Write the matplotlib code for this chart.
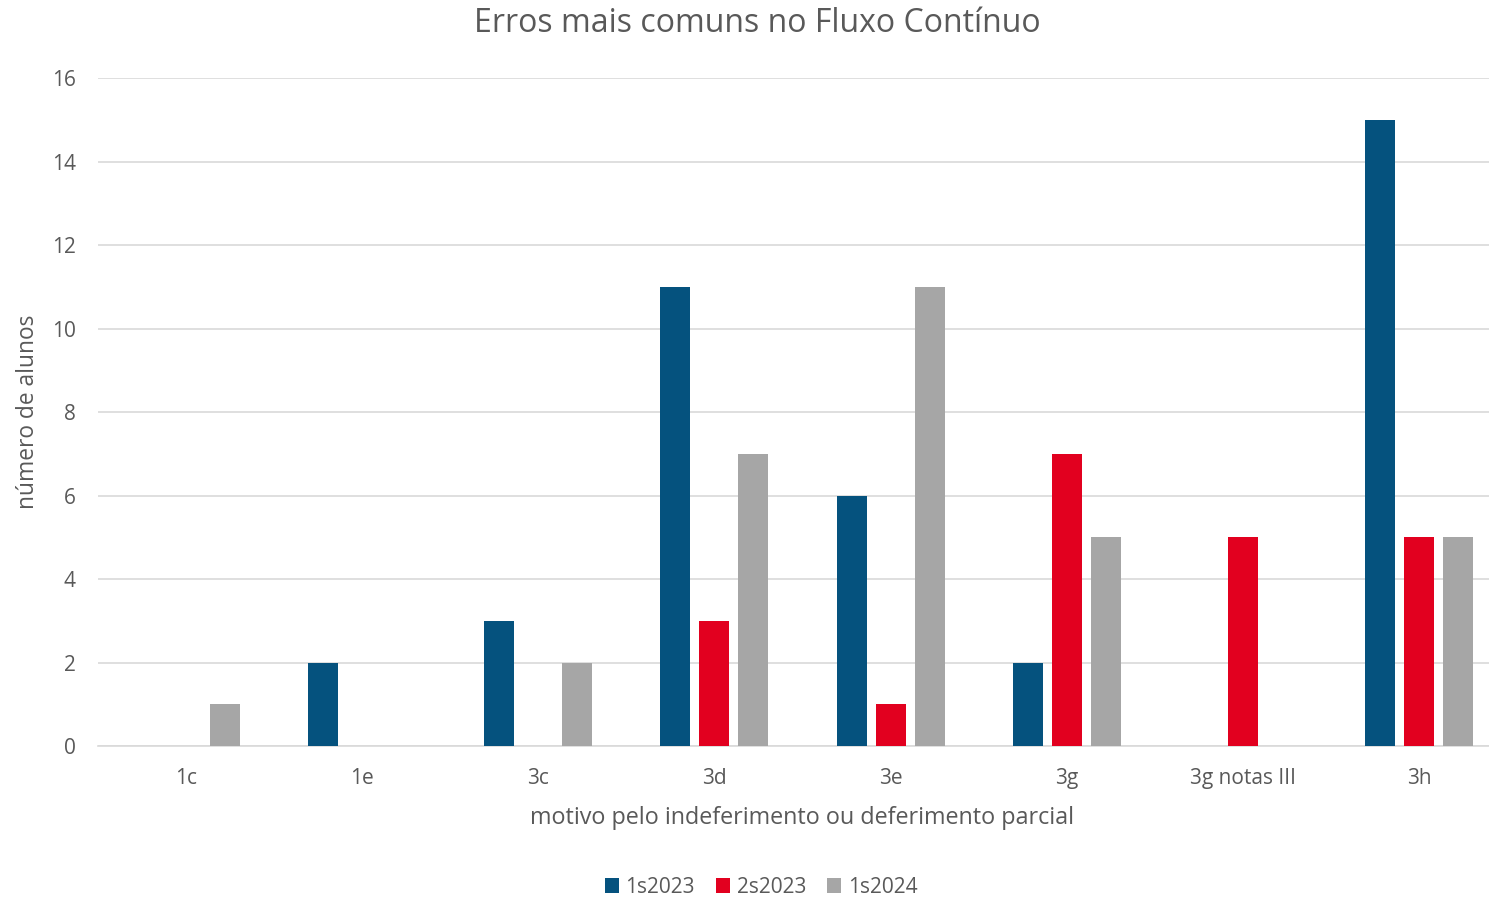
import matplotlib.pyplot as plt
import numpy as np

categorias = ['1c', '1e', '3c', '3d', '3e', '3g', '3g notas III', '3h']
s1_2023 = [0, 2, 3, 11, 6, 2, 0, 15]
s2_2023 = [0, 0, 0, 3, 1, 7, 5, 5]
s1_2024 = [1, 0, 2, 7, 11, 5, 0, 5]

plt.rcParams['font.family'] = ['Open Sans', 'DejaVu Sans']
cor_texto = '#595959'

fig = plt.figure(figsize=(14.89, 8.97), dpi=100)
# plot area runs slightly past the right edge, as in the original
ax = fig.add_axes([98/1489, 151/897, 1409/1489, 668/897])

x = np.arange(len(categorias))
w = 0.17
off = 0.2216
ax.bar(x - off, s1_2023, w, color='#05527E', label='1s2023', zorder=3)
ax.bar(x, s2_2023, w, color='#E2001F', label='2s2023', zorder=3)
ax.bar(x + off, s1_2024, w, color='#A6A6A6', label='1s2024', zorder=3)

ax.set_xlim(-0.5, 7.5)
ax.set_ylim(0, 16)
ax.set_yticks(range(0, 17, 2))
ax.set_xticks(x)
ax.set_xticklabels(categorias)
ax.grid(axis='y', color='#D9D9D9', linewidth=1.2, zorder=0)
for s in ['top', 'right', 'left']:
    ax.spines[s].set_visible(False)
ax.spines['bottom'].set_color('#D9D9D9')
ax.spines['bottom'].set_linewidth(1.2)
ax.tick_params(axis='both', length=0, labelsize=15, colors=cor_texto, pad=16)
ax.tick_params(axis='y', pad=16)

fig.text(757/1489, 1 - 23/897, 'Erros mais comuns no Fluxo Contínuo',
         ha='center', va='center', fontsize=23, color=cor_texto)
fig.text(802/1489, 1 - 818/897, 'motivo pelo indeferimento ou deferimento parcial',
         ha='center', va='center', fontsize=16.8, color=cor_texto)
fig.text(28/1489, 1 - 412/897, 'número de alunos', rotation=90,
         ha='center', va='center', fontsize=16.4, color=cor_texto)

fig.legend(loc='center', bbox_to_anchor=(761/1489, 1 - 887/897), ncol=3,
           frameon=False, fontsize=15, labelcolor=cor_texto,
           handlelength=0.7, handleheight=0.7, handletextpad=0.3, columnspacing=1.0)

fig.savefig('out.png', dpi=100)
